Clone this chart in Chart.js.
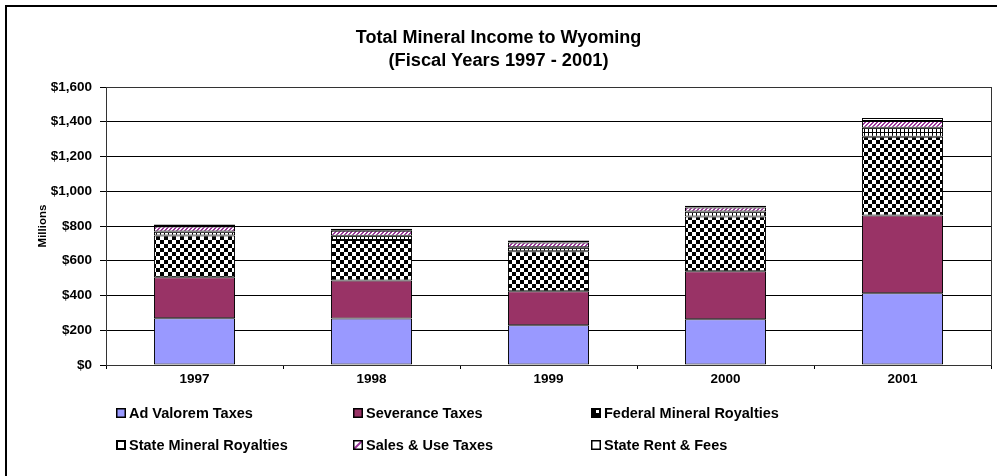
<!DOCTYPE html>
<html>
<head>
<meta charset="utf-8">
<script src="https://cdn.jsdelivr.net/npm/chart.js@4"></script>
<style>
  html, body { margin:0; padding:0; background:#fff; }
  #wrap { position:relative; width:997px; height:476px; overflow:hidden; font-family:"Liberation Sans", Arial, sans-serif; }
  #frame { position:absolute; left:5px; top:5px; width:1100px; height:600px; border-left:2px solid #000; border-top:2px solid #000; }
  canvas#c { position:absolute; left:0; top:0; }
  .t1 { position:absolute; left:0; width:997px; text-align:center; top:26px; line-height:22px; font-weight:bold; font-size:18px; }
  .t2 { position:absolute; left:0; width:997px; text-align:center; top:49px; line-height:22px; font-weight:bold; font-size:18.3px; }
  .leg { position:absolute; font-weight:bold; font-size:14.5px; height:16px; line-height:16px; white-space:nowrap; display:flex; align-items:center; }
  .leg canvas { width:10px; height:10px; margin-right:3px; }
</style>
</head>
<body>
<div id="wrap">
  <div id="frame"></div>
  <canvas id="c" width="997" height="476"></canvas>
  <div class="t1">Total Mineral Income to Wyoming</div>
  <div class="t2">(Fiscal Years 1997 - 2001)</div>
  <div id="legend"></div>
</div>
<script>
const categories = ['1997', '1998', '1999', '2000', '2001'];
const seriesNames = ['Ad Valorem Taxes', 'Severance Taxes', 'Federal Mineral Royalties', 'State Mineral Royalties', 'Sales & Use Taxes', 'State Rent & Fees'];
const adValorem    = [269, 267, 229, 264, 413];
const severance    = [236, 220, 195, 275, 447];
const federal      = [240, 232, 230, 315, 453];
const stateMineral = [23, 25, 23, 29, 52];
const salesUse     = [29, 28, 28, 23, 40];
const stateRent    = [11, 12, 12, 11, 17];
const yTicks = [0, 200, 400, 600, 800, 1000, 1200, 1400, 1600];

function makeTile(w, h, draw) {
  const cv = document.createElement('canvas');
  cv.width = w; cv.height = h;
  const g = cv.getContext('2d');
  draw(g);
  return cv;
}
const ctx = document.getElementById('c').getContext('2d');
const checkTile = makeTile(8, 8, g => {
  g.fillStyle = '#fff'; g.fillRect(0,0,8,8);
  g.fillStyle = '#000'; g.fillRect(0,0,4,4); g.fillRect(4,4,4,4);
});
const gridTile = makeTile(4, 4, g => {
  g.fillStyle = '#fff'; g.fillRect(0,0,4,4);
  g.fillStyle = '#000'; g.fillRect(0,0,1,4); g.fillRect(0,0,4,1);
});
const hatchTile = makeTile(4, 4, g => {
  g.fillStyle = '#fff'; g.fillRect(0,0,4,4);
  g.fillStyle = '#993399';
  g.fillRect(3,0,1,1); g.fillRect(2,1,1,1); g.fillRect(1,2,1,1); g.fillRect(0,3,1,1);
  g.fillRect(2,0,1,1); g.fillRect(1,1,1,1); g.fillRect(0,2,1,1); g.fillRect(3,3,1,1);
});
const fills = [
  '#9999FF',
  '#993366',
  ctx.createPattern(checkTile, 'repeat'),
  ctx.createPattern(gridTile, 'repeat'),
  ctx.createPattern(hatchTile, 'repeat'),
  '#FFFFFF'
];
const values = [adValorem, severance, federal, stateMineral, salesUse, stateRent];

const datasets = values.map((v, i) => ({
  label: seriesNames[i],
  data: v,
  backgroundColor: fills[i],
  borderColor: '#000',
  borderWidth: 1,
  borderSkipped: false,
  categoryPercentage: 1.0,
  barPercentage: 0.458
}));

const frameBox = {
  id: 'frameBox',
  afterDraw(chart) {
    const a = chart.chartArea, g = chart.ctx;
    g.save();
    g.strokeStyle = '#333';
    g.lineWidth = 1;
    g.strokeRect(Math.round(a.left)+0.5, Math.round(a.top)+0.5, Math.round(a.right-a.left), Math.round(a.bottom-a.top));
    g.restore();
  }
};

const tickFont = { family: '"Liberation Sans", Arial, sans-serif', size: 13.5, weight: 'bold' };

new Chart(ctx, {
  type: 'bar',
  data: { labels: categories, datasets },
  options: {
    responsive: false,
    animation: false,
    layout: { padding: { left: 33, right: 6, top: 87, bottom: 81 } },
    plugins: { legend: { display: false }, tooltip: { enabled: false }, title: { display: false } },
    scales: {
      x: {
        stacked: true,
        offset: true,
        grid: { display: true, drawOnChartArea: false, offset: true, tickLength: 4, color: '#000' },
        border: { color: '#000' },
        ticks: { color: '#000', font: tickFont, padding: 2, maxRotation: 0 },
        afterFit(s) { s.height = 30; }
      },
      y: {
        stacked: true,
        min: 0, max: 1600,
        afterBuildTicks(s) { s.ticks = yTicks.map(v => ({ value: v })); },
        grid: { color: '#000', tickLength: 6, lineWidth: 1 },
        border: { color: '#000' },
        ticks: { color: '#000', font: tickFont, padding: 8,
          callback: v => '$' + v.toLocaleString('en-US') },
        title: { display: true, text: 'Millions', color: '#000', padding: { top: 3, bottom: 3 },
          font: { family: '"Liberation Sans", Arial, sans-serif', size: 11.5, weight: 'bold' } },
        afterFit(s) { s.width = 73; }
      }
    }
  },
  plugins: [frameBox]
});

// HTML legend, 3 columns x 2 rows
const legPos = [[116, 405], [353, 405], [591, 405], [116, 437], [353, 437], [591, 437]];
const swatchDraw = [
  g => { g.fillStyle = '#9999FF'; g.fillRect(0,0,10,10); },
  g => { g.fillStyle = '#993366'; g.fillRect(0,0,10,10); },
  g => { g.fillStyle = '#000'; g.fillRect(0,0,10,10); g.fillStyle = '#fff'; g.fillRect(5,2,3,3); },
  g => { g.fillStyle = '#fff'; g.fillRect(0,0,10,10); },
  g => { g.fillStyle = '#fff'; g.fillRect(0,0,10,10); g.strokeStyle = '#993399'; g.lineWidth = 2; g.beginPath(); g.moveTo(1,9); g.lineTo(9,1); g.stroke(); },
  g => { g.fillStyle = '#fff'; g.fillRect(0,0,10,10); }
];
const legend = document.getElementById('legend');
seriesNames.forEach((name, i) => {
  const d = document.createElement('div');
  d.className = 'leg';
  d.style.left = legPos[i][0] + 'px';
  d.style.top = legPos[i][1] + 'px';
  const sw = document.createElement('canvas');
  sw.width = 10; sw.height = 10;
  const g = sw.getContext('2d');
  swatchDraw[i](g);
  g.strokeStyle = '#000'; g.lineWidth = (i === 3) ? 2 : 1.5;
  g.strokeRect(i === 3 ? 1 : 0.75, i === 3 ? 1 : 0.75, i === 3 ? 8 : 8.5, i === 3 ? 8 : 8.5);
  d.appendChild(sw);
  const sp = document.createElement('span');
  sp.textContent = name;
  d.appendChild(sp);
  legend.appendChild(d);
});
</script>
</body>
</html>
